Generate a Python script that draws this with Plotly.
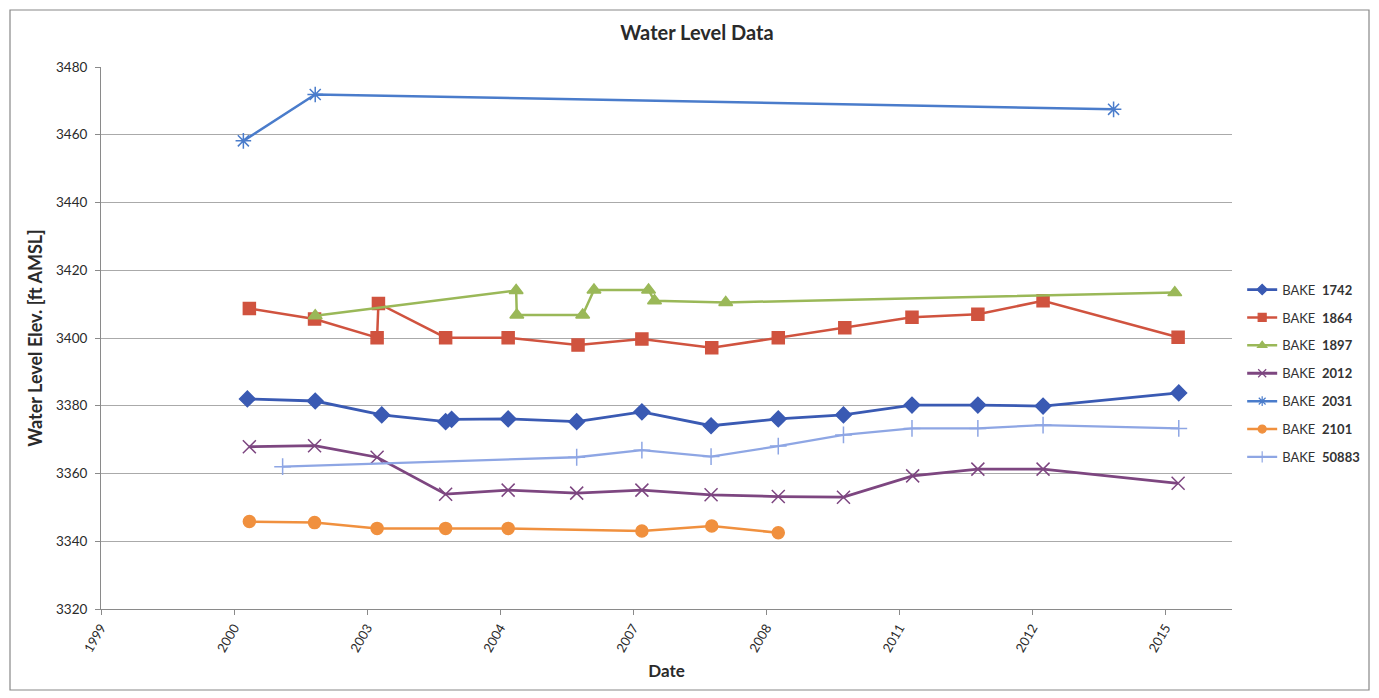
import plotly.graph_objects as go

# x values are decimal years, y values are water level elevations (ft AMSL)
x_1742 = [2001.20, 2002.22, 2003.22, 2004.18, 2004.27, 2005.12, 2006.15, 2007.13, 2008.17, 2009.18, 2010.16, 2011.19, 2012.18, 2013.16, 2015.20]
y_1742 = [3382.0, 3381.4, 3377.3, 3375.3, 3376.0, 3376.1, 3375.3, 3378.2, 3374.1, 3376.1, 3377.3, 3380.2, 3380.2, 3379.9, 3383.8]

x_1864 = [2001.23, 2002.21, 2003.15, 2003.17, 2004.18, 2005.12, 2006.17, 2007.13, 2008.18, 2009.18, 2010.18, 2011.19, 2012.18, 2013.16, 2015.19]
y_1864 = [3408.7, 3405.6, 3400.1, 3410.2, 3400.1, 3400.1, 3397.9, 3399.7, 3397.1, 3400.1, 3403.0, 3406.1, 3407.0, 3411.0, 3400.2]

x_1897 = [2002.22, 2005.24, 2005.25, 2006.24, 2006.41, 2007.23, 2007.32, 2008.39, 2015.14]
y_1897 = [3406.6, 3414.0, 3406.8, 3406.8, 3414.2, 3414.2, 3411.0, 3410.5, 3413.4]

x_2012 = [2001.23, 2002.21, 2003.15, 2004.18, 2005.12, 2006.15, 2007.13, 2008.17, 2009.18, 2010.16, 2011.20, 2012.18, 2013.16, 2015.19]
y_2012 = [3367.9, 3368.2, 3364.8, 3353.9, 3355.1, 3354.2, 3355.1, 3353.7, 3353.2, 3353.0, 3359.3, 3361.3, 3361.3, 3357.1]

x_2031 = [2001.14, 2002.22, 2014.22]
y_2031 = [3458.2, 3471.9, 3467.5]

x_2101 = [2001.23, 2002.21, 2003.15, 2004.18, 2005.12, 2007.13, 2008.18, 2009.18]
y_2101 = [3345.8, 3345.5, 3343.8, 3343.8, 3343.8, 3343.0, 3344.5, 3342.5]

x_50883 = [2001.73, 2006.15, 2007.13, 2008.17, 2009.18, 2010.16, 2011.19, 2012.18, 2013.16, 2015.20]
y_50883 = [3362.0, 3364.8, 3366.9, 3365.0, 3368.1, 3371.4, 3373.3, 3373.3, 3374.3, 3373.3]

well_ids = ["1742", "1864", "1897", "2012", "2031", "2101", "50883"]
series_names = ["BAKE " + w for w in well_ids]

x_tickvals = [1999, 2001, 2003, 2005, 2007, 2009, 2011, 2013, 2015]
x_ticktext = ["1999", "2000", "2003", "2004", "2007", "2008", "2011", "2012", "2015"]
y_tickvals = [3320, 3340, 3360, 3380, 3400, 3420, 3440, 3460, 3480]

styles = [
    dict(color="#3A5AB3", symbol="diamond", size=12, width=2.8),
    dict(color="#D0533F", symbol="square", size=12, width=2.5),
    dict(color="#9AB858", symbol="triangle-up", size=12, width=2.5),
    dict(color="#7D4680", symbol="x-thin-open", size=13, width=2.8),
    dict(color="#4A7CCB", symbol="asterisk-open", size=13, width=2.5),
    dict(color="#F0903E", symbol="circle", size=12, width=2.5),
    dict(color="#8EA6E4", symbol="cross-thin-open", size=12, width=2.3),
]

xs = [x_1742, x_1864, x_1897, x_2012, x_2031, x_2101, x_50883]
ys = [y_1742, y_1864, y_1897, y_2012, y_2031, y_2101, y_50883]

fig = go.Figure()
for wid, name, x, y, st in zip(well_ids, series_names, xs, ys, styles):
    fig.add_trace(go.Scatter(
        x=x, y=y, name=name, mode="lines+markers", showlegend=False,
        legendgroup=name,
        line=dict(color=st["color"], width=st["width"]),
        marker=dict(symbol=st["symbol"], size=st["size"], color=st["color"],
                    line=dict(color=st["color"], width=1.5)),
    ))

# legend entries with the smaller markers that the reference legend shows
for wid, name, st in zip(well_ids, series_names, styles):
    fig.add_trace(go.Scatter(
        x=[None], y=[None], name="BAKE&nbsp; <b>" + wid + "</b>", mode="lines+markers",
        legendgroup=name, showlegend=True, hoverinfo="skip",
        line=dict(color=st["color"], width=st["width"]),
        marker=dict(symbol=st["symbol"], size=8, color=st["color"],
                    line=dict(color=st["color"], width=1.2)),
    ))

font_family = "Lato, 'Open Sans', sans-serif"

# the page body adds an 8px offset; margins place the plot area as in the reference
W, H = 1400, 698
fig.update_layout(
    width=W, height=H,
    margin=dict(l=93, r=W - 1224, t=59, b=H - 601),
    paper_bgcolor="white", plot_bgcolor="white",
    font=dict(family=font_family, color="#333333", size=13),
    title=dict(text="<b>Water Level Data</b>", x=(697 - 8) / W, xanchor="center",
               y=1 - 25 / H, yanchor="middle",
               font=dict(size=20, color="#2a2a2a")),
    showlegend=True,
    legend=dict(x=1.009, xanchor="left", y=0.617, yanchor="top",
                font=dict(size=13, color="#333333"), tracegroupgap=8,
                itemwidth=30, bgcolor="rgba(0,0,0,0)"),
    xaxis=dict(
        range=[1999, 2016.0], tickmode="array", tickvals=x_tickvals, ticktext=x_ticktext,
        tickangle=-60, showgrid=False, showline=True, linecolor="#8a8a8a", linewidth=1,
        ticks="outside", ticklen=5, tickcolor="#8a8a8a", zeroline=False,
        tickfont=dict(size=13, color="#2a2a2a"),
        title=dict(text="<b>Date</b>", font=dict(size=17, color="#2a2a2a"), standoff=11),
    ),
    yaxis=dict(
        range=[3320, 3480], tickmode="array", tickvals=y_tickvals,
        showgrid=True, gridcolor="#aaaaaa", gridwidth=1,
        showline=True, linecolor="#8a8a8a", linewidth=1,
        ticks="outside", ticklen=5, tickcolor="#8a8a8a", zeroline=False,
        ticklabelstandoff=5,
        tickfont=dict(size=13.5, color="#2a2a2a"),
        title=dict(text="<b>Water Level Elev. [ft AMSL]</b>", font=dict(size=18, color="#2a2a2a"), standoff=8),
    ),
)

# outer chart border
fig.add_shape(type="rect", xref="paper", yref="paper",
              x0=(2 - 93) / 1131, x1=(1361 - 93) / 1131,
              y0=(601 - 682) / 542, y1=(601 - 2) / 542,
              line=dict(color="#888888", width=1.2), fillcolor="rgba(0,0,0,0)", layer="below")

fig.write_html("out.html")
